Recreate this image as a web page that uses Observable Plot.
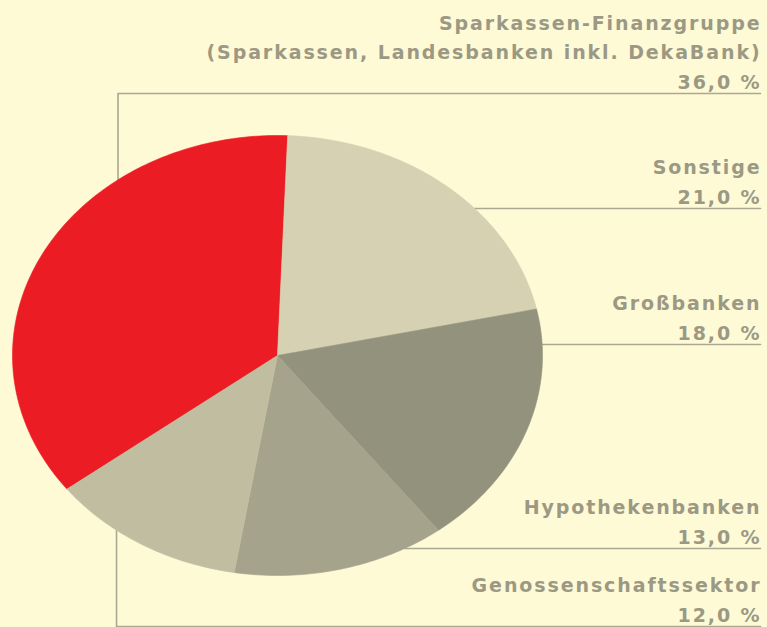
<!DOCTYPE html>
<html>
<head>
<meta charset="utf-8">
<script src="https://cdn.jsdelivr.net/npm/d3@7"></script>
<script src="https://cdn.jsdelivr.net/npm/@observablehq/plot@0.6"></script>
<style>
  html, body { margin: 0; padding: 0; background: #fffad6; }
  #chart { width: 767px; height: 627px; }
</style>
</head>
<body>
<div id="chart"></div>
<script>
// ---- data ----
const categories = [
  "Sparkassen-Finanzgruppe\n(Sparkassen, Landesbanken inkl. DekaBank)",
  "Sonstige",
  "Großbanken",
  "Hypothekenbanken",
  "Genossenschaftssektor"
];
const shares = [36.0, 21.0, 18.0, 13.0, 12.0];
const sliceColors = ["#ec1c24", "#d5d1b2", "#93927c", "#a5a38b", "#c1bda1"];

// ---- layout (pixels / degrees) ----
const W = 767, H = 627;
const startAngle = -127.4;             // degrees clockwise from 12 o'clock
const anchorAngles = [-37, 48, 87, 151, 217.4];
const lineY = [93, 208, 344, 548, 626]; // leader line heights (px)
const elbow = [true, false, false, false, true];
const rightEdge = 760;
const textRight = 761;
const xRange = [12, 542], yRange = [575, 135];

const xInv = px => -1 + (px - xRange[0]) / (xRange[1] - xRange[0]) * 2;
const yInv = py => -1 + (py - yRange[0]) / (yRange[1] - yRange[0]) * 2;
const rad = d => d * Math.PI / 180;

// pie slices as polygons in unit-circle coordinates
const total = d3.sum(shares);
const slicePts = [];
let a0 = startAngle;
categories.forEach((name, i) => {
  const a1 = a0 + shares[i] / total * 360;
  slicePts.push({name, x: 0, y: 0});
  const n = Math.max(2, Math.ceil(a1 - a0));
  for (let k = 0; k <= n; k++) {
    const a = rad(a0 + (a1 - a0) * k / n);
    slicePts.push({name, x: Math.sin(a), y: Math.cos(a)});
  }
  slicePts.push({name, x: 0, y: 0});
  a0 = a1;
});

// leader lines
const leaderPts = [];
categories.forEach((name, i) => {
  const yy = yInv(lineY[i]);
  if (elbow[i]) {
    const a = rad(anchorAngles[i]);
    const px = Math.sin(a), py = Math.cos(a);
    leaderPts.push({name, x: px, y: py});
    leaderPts.push({name, x: px, y: yy});
  } else {
    const xx = Math.sqrt(Math.max(0, 1 - yy * yy));
    leaderPts.push({name, x: xx, y: yy});
  }
  leaderPts.push({name, x: xInv(rightEdge), y: yy});
});

const fmt = v => v.toFixed(1).replace(".", ",") + " %";
const labels = categories.map((name, i) => ({
  name,
  text: name + "\n" + fmt(shares[i]),
  x: xInv(textRight),
  y: yInv(lineY[i] - 5)
}));

const chart = Plot.plot({
  width: W,
  height: H,
  margin: 0,
  x: {domain: [-1, 1], range: xRange, axis: null},
  y: {domain: [-1, 1], range: yRange, axis: null},
  color: {domain: categories, range: sliceColors},
  style: {background: "#fffad6", fontFamily: "'DejaVu Sans', sans-serif", letterSpacing: "1.9px", overflow: "visible"},
  marks: [
    Plot.line(leaderPts, {x: "x", y: "y", z: "name", stroke: "#aaa892", strokeWidth: 1.6, curve: "linear"}),
    Plot.line(slicePts, {x: "x", y: "y", z: "name", fill: "name", stroke: "name", strokeWidth: 0.6, curve: "linear"}),
    Plot.text(labels, {x: "x", y: "y", text: "text", textAnchor: "end", lineAnchor: "bottom",
      fontSize: 19, fontWeight: "bold", fill: "#9b9984", lineHeight: 1.55})
  ]
});
document.getElementById("chart").appendChild(chart);
</script>
</body>
</html>
